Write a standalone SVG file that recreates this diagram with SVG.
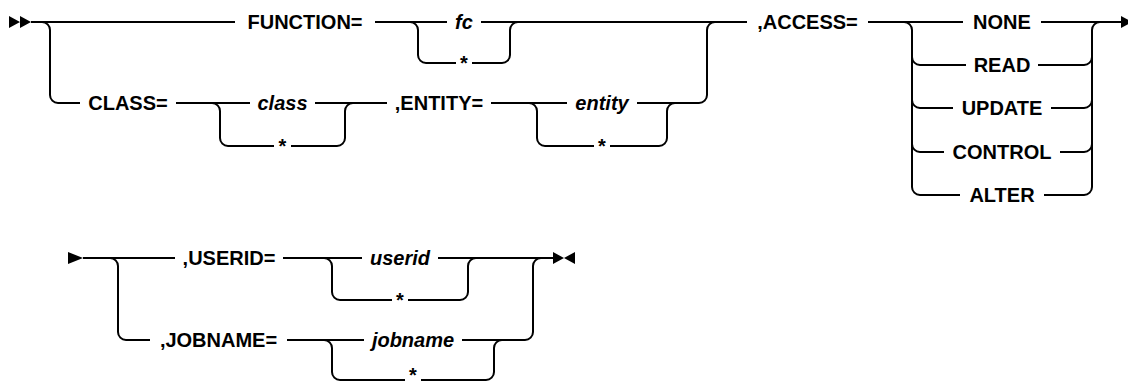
<svg xmlns="http://www.w3.org/2000/svg" width="1128" height="387" viewBox="0 0 1128 387">
<style>
.t{font-family:"Liberation Sans",Arial,sans-serif;font-size:20px;font-weight:bold;fill:#000;text-anchor:middle}
.v{font-style:italic}
.c{fill:none;stroke:#000;stroke-width:2}
.m{fill:#000;stroke:none}
</style>
<rect width="1128" height="387" fill="#fff"/>
<g id="connectors" class="c">
<path d="M31,22 H235 M375,22 H447 M481,22 H747 M868,22 H963 M1041,22 H1122"/>
<path d="M42,22 A8,8 0 0 1 50,30 V95 A8,8 0 0 0 58,103 H80"/>
<path d="M176,103 H250 M315,103 H387 M491,103 H567 M637,103 H699 A8,8 0 0 0 707,95 V30 A8,8 0 0 1 715,22"/>
<path d="M212,103 A8,8 0 0 1 220,111 V138 A8,8 0 0 0 228,146 H274 M291,146 H337 A8,8 0 0 0 345,138 V111 A8,8 0 0 1 353,103"/>
<path d="M410,22 A8,8 0 0 1 418,30 V55 A8,8 0 0 0 426,63 H456 M472,63 H502 A8,8 0 0 0 510,55 V30 A8,8 0 0 1 518,22"/>
<path d="M529,103 A8,8 0 0 1 537,111 V138 A8,8 0 0 0 545,146 H594 M610,146 H659 A8,8 0 0 0 667,138 V111 A8,8 0 0 1 675,103"/>
<path d="M904,22 A8,8 0 0 1 912,30 V187 A8,8 0 0 0 920,195 M912,57 A8,8 0 0 0 920,65 M912,100 A8,8 0 0 0 920,108 M912,144 A8,8 0 0 0 920,152"/>
<path d="M1084,65 A8,8 0 0 0 1092,57 M1084,108 A8,8 0 0 0 1092,100 M1084,152 A8,8 0 0 0 1092,144 M1084,195 A8,8 0 0 0 1092,187 V30 A8,8 0 0 1 1100,22"/>
<path d="M920,65 H966 M1038,65 H1084 M920,108 H953 M1051,108 H1084 M920,152 H944 M1060,152 H1084 M920,195 H960 M1044,195 H1084"/>
<path d="M83,258 H175 M283,258 H362 M438,258 H553"/>
<path d="M110,258 A8,8 0 0 1 118,266 V332 A8,8 0 0 0 126,340 H150 M287,340 H364 M462,340 H525 A8,8 0 0 0 533,332 V266 A8,8 0 0 1 541,258"/>
<path d="M324,258 A8,8 0 0 1 332,266 V292 A8,8 0 0 0 340,300 H392 M408,300 H460 A8,8 0 0 0 468,292 V266 A8,8 0 0 1 476,258"/>
<path d="M324,340 A8,8 0 0 1 332,348 V372 A8,8 0 0 0 340,380 H405 M421,380 H486 A8,8 0 0 0 494,372 V348 A8,8 0 0 1 502,340"/>
</g>
<g id="markers" class="m">
<path id="start" d="M9,16 L20,22 L9,28 Z M20,16 L31,22 L20,28 Z"/>
<path id="cont-out" d="M1121,16 L1132,22 L1121,28 Z"/>
<path id="cont-in" d="M68,252 L83,258 L68,264 Z"/>
<path id="end" d="M553,252 L564,258 L553,264 Z M575,252 L564,258 L575,264 Z"/>
</g>
<g id="n-function"><text class="t" x="305" y="29">FUNCTION=</text></g>
<g id="n-fc"><text class="t v" x="464" y="29">fc</text></g>
<g id="n-fc-star"><text class="t" x="464" y="70">*</text></g>
<g id="n-class-kw"><text class="t" x="128" y="110">CLASS=</text></g>
<g id="n-class"><text class="t v" x="282.5" y="110">class</text></g>
<g id="n-class-star"><text class="t" x="282.5" y="153">*</text></g>
<g id="n-entity-kw"><text class="t" x="439" y="110">,ENTITY=</text></g>
<g id="n-entity"><text class="t v" x="602" y="110">entity</text></g>
<g id="n-entity-star"><text class="t" x="602" y="153">*</text></g>
<g id="n-access"><text class="t" x="807.5" y="29">,ACCESS=</text></g>
<g id="n-none"><text class="t" x="1002" y="29">NONE</text></g>
<g id="n-read"><text class="t" x="1002" y="72">READ</text></g>
<g id="n-update"><text class="t" x="1002" y="115">UPDATE</text></g>
<g id="n-control"><text class="t" x="1002" y="159">CONTROL</text></g>
<g id="n-alter"><text class="t" x="1002" y="202">ALTER</text></g>
<g id="n-userid-kw"><text class="t" x="229" y="265">,USERID=</text></g>
<g id="n-userid"><text class="t v" x="400" y="265">userid</text></g>
<g id="n-userid-star"><text class="t" x="400" y="307">*</text></g>
<g id="n-jobname-kw"><text class="t" x="218.5" y="347">,JOBNAME=</text></g>
<g id="n-jobname"><text class="t v" x="413" y="347">jobname</text></g>
<g id="n-jobname-star"><text class="t" x="413" y="382">*</text></g>
</svg>
